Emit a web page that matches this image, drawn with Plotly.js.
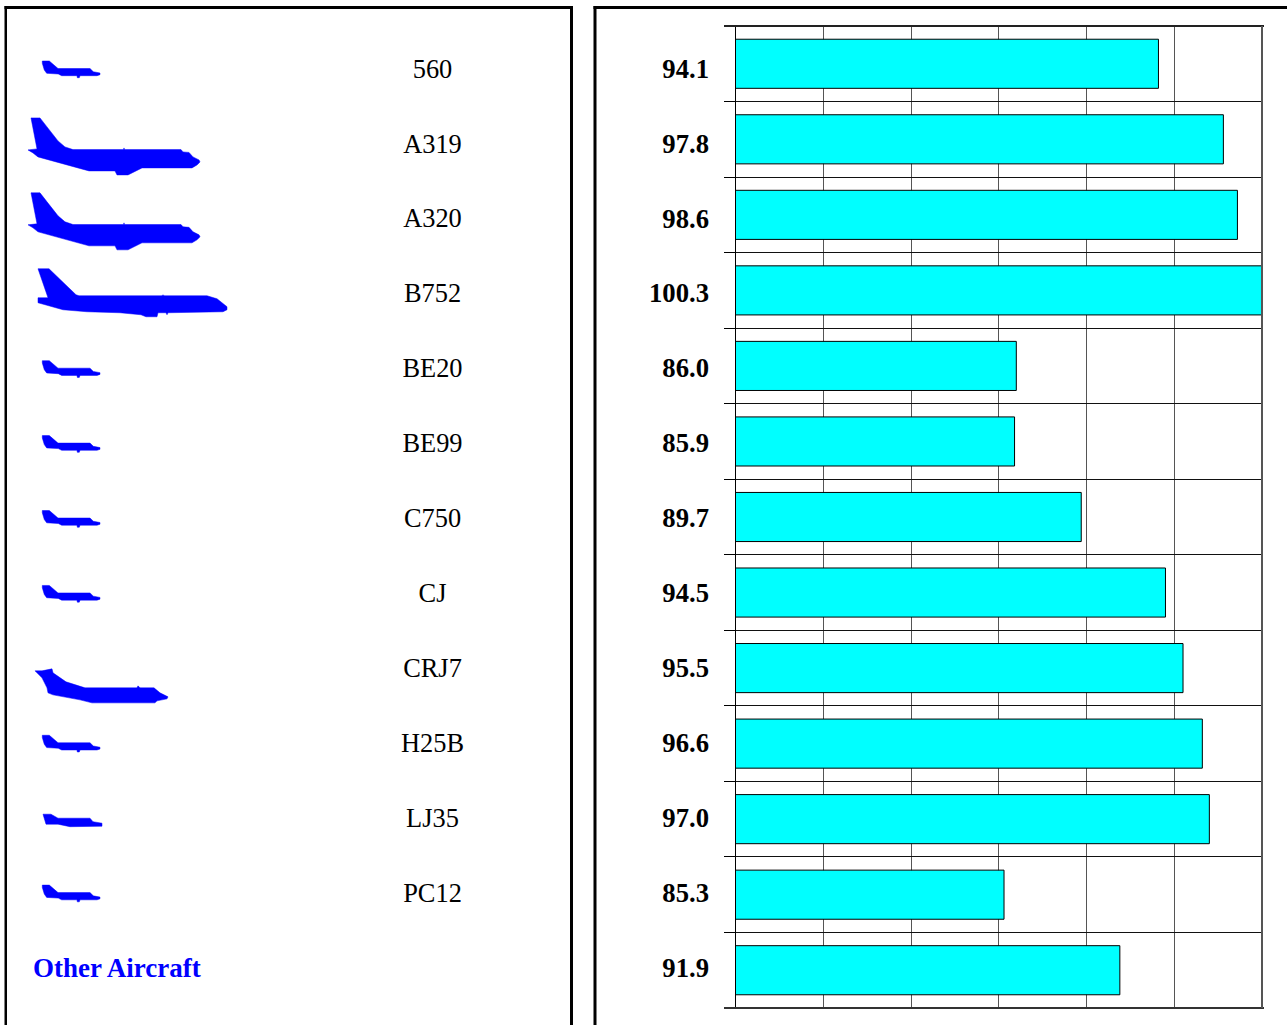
<!DOCTYPE html>
<html>
<head>
<meta charset="utf-8">
<script src="https://cdn.plot.ly/plotly-3.0.1.min.js"></script>
<style>html,body{margin:0;padding:0;background:#fff;overflow:hidden}</style>
</head>
<body>
<div id="chart" style="width:1287px;height:1025px"></div>
<script>
// ---- data ----
const categories = ["560","A319","A320","B752","BE20","BE99","C750","CJ","CRJ7","H25B","LJ35","PC12","Other Aircraft"];
const values = [94.1,97.8,98.6,100.3,86.0,85.9,89.7,94.5,95.5,96.6,97.0,85.3,91.9];
const iconKinds = ["small","narrow","narrow","b752","small","small","small","small","crj","small","lear","small",null];
const otherLabel = "Other Aircraft";

// ---- icon outlines (pixel offsets from the row centre) ----
const icons = {
  small: {x:[42.3,49.3,58,90,93.3,100,100,97,80,79.3,77.3,77,61.7,58.3,46.7,44.3,42.3],
          y:[-8,-8,-0.5,-0.5,2.7,4,5.7,6.7,6.7,8.7,8.7,6.7,6.7,5,4.3,1,-5.7]},
  lear:  {x:[43,51,58,90,93,102,102,70,58,46],
          y:[-4,-4,0,0,3.5,5,8,8.5,6,6]},
  narrow:{x:[31,40,47,58,65,73,123.5,124,124.5,181,183,189,193,199,200,197,192,142,128,117,115,89,78,38,33,28,37],
          y:[-26,-26,-17,-3,3,5.7,5.7,4,5.7,5.7,8,8.5,13,16,18,21,24,24,31,31,27,27,24,13,9,6,5]},
  b752:  {x:[38,49,76,79,162,163,164,207,217,227,227,223,168,167,166,158,157,146,141,120,87,63,38,38,48],
          y:[-25,-25,1,2,2,1,2,2,5,13,16,18,19,21,19,19,23,23,21,19,18,16,9,4,4]},
  crj:   {x:[35,42,52,53,66,83,85,137,138,140,154,160,165,168,167,157,155,92,80,53,48,47,42,38],
          y:[2.5,2.5,0.5,4.5,13.5,18.5,19.5,19.5,17.5,19.5,19.5,24.5,26.5,28.5,30.5,32.5,34.5,34.5,31.5,26.5,24.5,19.5,9.5,5.5]}
};

// ---- geometry ----
const W = 1287, H = 1025;
const firstRowPx = 69, rowPx = 74.92, textDropPx = 2;
const rowCentre = i => firstRowPx + rowPx * i;

// build icon polygon (gaps between planes)
const iconX = [], iconY = [];
iconKinds.forEach((k, i) => {
  if (!k) return;
  const c = icons[k];
  c.x.forEach((v, j) => { iconX.push(v); iconY.push(rowCentre(i) + c.y[j]); });
  iconX.push(c.x[0]); iconY.push(rowCentre(i) + c.y[0]);
  iconX.push(null); iconY.push(null);
});

const serif = '"Liberation Serif","Times New Roman",serif';
const named = categories.slice(0, 12);
const textTop = firstRowPx + textDropPx;

const traces = [
  {type:"bar", orientation:"h", x:values, y:categories, xaxis:"x", yaxis:"y",
   marker:{color:"#00ffff", line:{color:"#000", width:1}}, hoverinfo:"x+y"},
  {type:"scatter", mode:"lines", x:iconX, y:iconY, xaxis:"x2", yaxis:"y3",
   fill:"toself", fillcolor:"#0000ff", line:{color:"#0000ff", width:0.5}, hoverinfo:"skip", connectgaps:false},
  {type:"scatter", mode:"text", x:named.map(()=>432.5), y:named, text:named, xaxis:"x2", yaxis:"y2",
   textposition:"middle center", textfont:{family:serif, size:26.4, color:"#000"}, hoverinfo:"skip"},
  {type:"scatter", mode:"text", x:categories.map(()=>709), y:categories, text:values.map(v=>v.toFixed(1)), xaxis:"x2", yaxis:"y2",
   textposition:"middle left", textfont:{family:serif, size:26.7, color:"#000", weight:700}, hoverinfo:"skip"},
  {type:"scatter", mode:"text", x:[33], y:[otherLabel], text:[otherLabel], xaxis:"x2", yaxis:"y2",
   textposition:"middle right", textfont:{family:serif, size:27, color:"#0000ff", weight:700}, hoverinfo:"skip"}
];

const frame = (x0,y0,x1,y1) => ({type:"rect", xref:"x2", yref:"y3", x0, y0, x1, y1, fillcolor:"#000", line:{width:0}, layer:"above"});

const layout = {
  width:W, height:H, margin:{l:0,r:0,t:0,b:0,pad:0}, showlegend:false,
  paper_bgcolor:"#fff", plot_bgcolor:"rgba(0,0,0,0)", bargap:0.35, hovermode:false,
  xaxis:{domain:[735.5/W,1262/W], range:[70,100], dtick:5, tick0:70, showticklabels:false, ticks:"",
         showgrid:true, gridcolor:"#555", gridwidth:1, zeroline:false, anchor:"y"},
  yaxis:{domain:[1-1008/H,1-26/H], type:"category", categoryorder:"array", categoryarray:categories,
         range:[12.5,-0.5], tickson:"boundaries", ticks:"outside", ticklen:11, tickcolor:"#000", tickwidth:1,
         showticklabels:false, showgrid:true, gridcolor:"#111", gridwidth:1, showline:true, linecolor:"#000", linewidth:1, zeroline:false, anchor:"x"},
  xaxis2:{domain:[0,1], range:[0,W], visible:false, anchor:"y2", fixedrange:true},
  yaxis2:{domain:[0,1], type:"category", categoryorder:"array", categoryarray:categories,
          range:[(H-textTop)/rowPx,-textTop/rowPx], visible:false, anchor:"x2", fixedrange:true},
  yaxis3:{domain:[0,1], range:[H,0], visible:false, overlaying:"y2", anchor:"x2", fixedrange:true},
  shapes:[
    frame(4.5,6,573,9), frame(4.5,6,7,H), frame(570,6,573,H),
    frame(593.5,6,W,9), frame(593.5,6,596.5,H),
    {type:"line", xref:"x2", yref:"y3", x0:724, x1:1264, y0:26, y1:26, line:{color:"#222", width:2}},
    {type:"line", xref:"x2", yref:"y3", x0:724, x1:1264, y0:1008, y1:1008, line:{color:"#333", width:2}},
    {type:"line", xref:"x2", yref:"y3", x0:1262, x1:1262, y0:26, y1:1008, line:{color:"#555", width:2}}
  ]
};

Plotly.newPlot("chart", traces, layout, {displayModeBar:false, staticPlot:true});
</script>
</body>
</html>
